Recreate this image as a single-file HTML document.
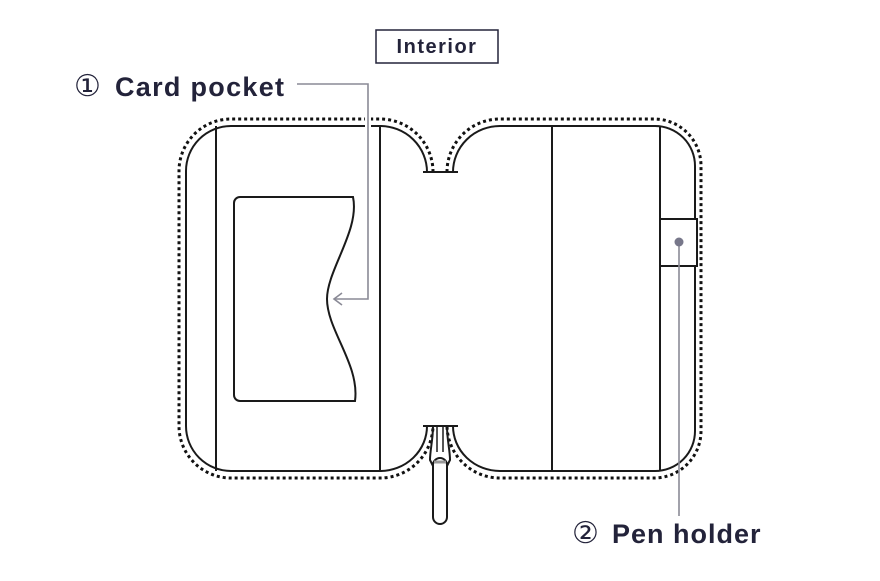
<!DOCTYPE html>
<html><head><meta charset="utf-8"><style>
body{margin:0;background:#fff}
svg text{font-family:"Liberation Sans",sans-serif;font-weight:bold;fill:#23233a}
</style></head><body>
<svg width="880" height="576" viewBox="0 0 880 576" xmlns="http://www.w3.org/2000/svg">
<rect width="880" height="576" fill="#fff"/>
<g fill="none" stroke="#111" stroke-width="3" stroke-dasharray="3 3">
<path d="M433,172 A53,53 0 0 0 380,119 H231 A52,52 0 0 0 179,171 V426 A52,52 0 0 0 231,478 H380 A53,53 0 0 0 433,426"/>
<path d="M447,172 A53,53 0 0 1 500,119 H655 A47,47 0 0 1 701,166 V431 A47,47 0 0 1 655,478 H500 A53,53 0 0 1 447,426"/>
</g>
<g fill="none" stroke="#1a1a1a" stroke-width="2">
<path d="M427,172 A47,46 0 0 0 380,126 H231 A45,45 0 0 0 186,171 V426 A45,45 0 0 0 231,471 H380 A47,45 0 0 0 427,426"/>
<path d="M453,172 A47,46 0 0 1 500,126 H655 A40,40 0 0 1 695,166 V431 A40,40 0 0 1 655,471 H500 A47,45 0 0 1 453,426"/>
<line x1="423" y1="172" x2="458" y2="172"/>
<line x1="423" y1="426" x2="458" y2="426"/>
<line x1="216" y1="126" x2="216" y2="471"/>
<line x1="380" y1="126" x2="380" y2="471"/>
<line x1="552" y1="126" x2="552" y2="471"/>
<line x1="660" y1="126" x2="660" y2="471"/>
<rect x="660" y="219" width="37" height="47" fill="#fff"/>
<path d="M240,197 H353 C360,230 327,270 327,299 C327,330 360,365 355,401 H240 A6,6 0 0 1 234,395 V203 A6,6 0 0 1 240,197 Z"/>
<path d="M433,426 C433,440 430,450 430,460 L433,466 H447 L450,460 C450,450 447,440 447,426"/>
<rect x="433" y="458" width="14" height="66" rx="7" fill="#fff"/>
<line x1="434" y1="462" x2="446" y2="462" stroke="#999" stroke-width="3"/>
<line x1="437" y1="426" x2="437" y2="452" stroke-width="1.5"/>
<line x1="443" y1="426" x2="443" y2="452" stroke-width="1.5"/>
</g>
<g fill="none" stroke="#8a8a96" stroke-width="1.6">
<path d="M297,84 H368 V299 H335" stroke="#fff" stroke-width="6"/>
<path d="M297,84 H368 V299 H335"/>
<path d="M342,293 L334,299 L342,305"/>
<line x1="679" y1="242" x2="679" y2="516"/>
</g>
<circle cx="679" cy="242" r="4.5" fill="#77778a"/>
<rect x="376" y="30" width="122" height="33" fill="#fff" stroke="#23233a" stroke-width="1.5"/>
<text x="437" y="53" font-size="20" letter-spacing="1.5" text-anchor="middle">Interior</text>
<text x="74" y="96" font-size="30" font-weight="normal" style="font-weight:normal">①</text>
<text x="115" y="96" font-size="27" letter-spacing="1.3">Card pocket</text>
<text x="572" y="543" font-size="30" style="font-weight:normal">②</text>
<text x="612" y="543" font-size="27" letter-spacing="1">Pen holder</text>
</svg>
</body></html>
